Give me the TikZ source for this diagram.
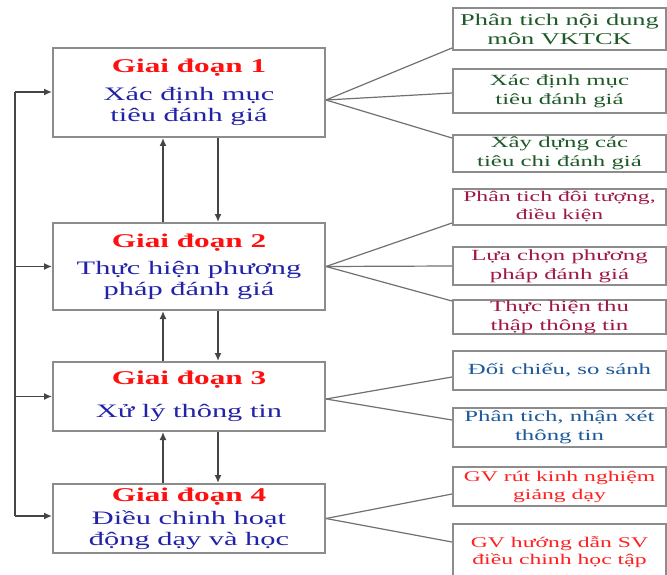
\documentclass[tikz,border=0pt]{standalone}
\usepackage{fontspec}
\setmainfont{Liberation Serif}
\usetikzlibrary{arrows.meta,calc}

\definecolor{titlered}{HTML}{FF1010}
\definecolor{stageblue}{HTML}{2222A8}
\definecolor{taskgreen}{HTML}{1E5A28}
\definecolor{taskmaroon}{HTML}{A01848}
\definecolor{tasksteel}{HTML}{1F5A98}
\definecolor{taskred}{HTML}{FF2020}
\definecolor{framegray}{HTML}{8C8C8C}
\definecolor{linkgray}{HTML}{707070}
\definecolor{arrowdark}{HTML}{454545}

% text in this chart is set wide
\newcommand\wide[1]{\scalebox{1.6}[1]{#1}}
\newcommand\stagehead[1]{{\color{titlered}\bfseries\fontsize{19.5}{21}\selectfont\wide{#1}}}

\tikzset{
  stagebox/.style={draw=framegray, line width=2pt, fill=white, minimum width=272pt,
    align=center, text=stageblue, font=\fontsize{19}{21}\selectfont, inner sep=0pt},
  taskbox/.style={draw=framegray, line width=2pt, fill=white, minimum width=213pt,
    align=center, font=\fontsize{15.5}{19}\selectfont, inner sep=0pt},
  link/.style={draw=linkgray, line width=1.2pt},
  loopline/.style={draw=arrowdark, line width=1.5pt},
  flow/.style={draw=arrowdark, line width=1.5pt, -{Latex[length=8pt,width=7pt]}}
}

\begin{document}
\begin{tikzpicture}[x=1pt, y=-1pt]
\useasboundingbox (0,0) rectangle (667,575);

% stages
\node[stagebox, minimum height=89pt] (s1) at (189,92.5)
  {\stagehead{Giai đoạn 1}\\[7pt]\wide{Xác định mục}\\\wide{tiêu đánh giá}};
\node[stagebox, minimum height=87pt] (s2) at (189,266.5)
  {\stagehead{Giai đoạn 2}\\[6pt]\wide{Thực hiện phương}\\\wide{pháp đánh giá}};
\node[stagebox, minimum height=69pt] (s3) at (189,396.5)
  {\stagehead{Giai đoạn 3}\\[12pt]\wide{Xử lý thông tin}};
\node[stagebox, minimum height=69pt] (s4) at (189,518.5)
  {\stagehead{Giai đoạn 4}\\[2pt]\wide{Điều chinh hoạt}\\\wide{động dạy và học}};

% tasks of each stage
\node[taskbox, text=taskgreen, minimum height=42pt, font=\fontsize{16.5}{19}\selectfont] (r1) at (559.5,29)
  {\wide{Phân tich nội dung}\\\wide{môn VKTCK}};
\node[taskbox, text=taskgreen, minimum height=44pt] (r2) at (559.5,91)
  {\wide{Xác định mục}\\\wide{tiêu đánh giá}};
\node[taskbox, text=taskgreen, minimum height=37pt] (r3) at (559.5,153.5)
  {\wide{Xây dựng các}\\\wide{tiêu chi đánh giá}};

\node[taskbox, text=taskmaroon, minimum height=36pt, font=\fontsize{14.8}{18}\selectfont] (r4) at (559.5,207)
  {\wide{Phân tich đôi tượng,}\\\wide{điều kiện}};
\node[taskbox, text=taskmaroon, minimum height=38pt] (r5) at (559.5,266)
  {\wide{Lựa chọn phương}\\\wide{pháp đánh giá}};
\node[taskbox, text=taskmaroon, minimum height=34pt] (r6) at (559.5,317)
  {\wide{Thực hiện thu}\\\wide{thập thông tin}};

\node[taskbox, text=tasksteel, minimum height=39pt] (r7) at (559.5,370.5)
  {\wide{Đối chiếu, so sánh}};
\node[taskbox, text=tasksteel, minimum height=39pt] (r8) at (559.5,427.5)
  {\wide{Phân tich, nhận xét}\\\wide{thông tin}};

\node[taskbox, text=taskred, minimum height=39pt, font=\fontsize{14.8}{18}\selectfont] (r9) at (559.5,486.5)
  {\wide{GV rút kinh nghiệm}\\\wide{giảng dạy}};
\node[taskbox, text=taskred, minimum height=56pt, font=\fontsize{14.8}{17}\selectfont] (r10) at (559.5,552)
  {\wide{GV hướng dẫn SV}\\\wide{điều chinh học tập}};

% fan-out links from each stage to its tasks
\coordinate (f1) at ([yshift=-7.5pt]s1.east);
\coordinate (f2) at (s2.east);
\coordinate (f3) at ([yshift=-2.5pt]s3.east);
\coordinate (f4) at (s4.east);
\draw[link] (f1) -- ([yshift=-19pt]r1.west);
\draw[link] (f1) -- ([yshift=-2pt]r2.west);
\draw[link] (f1) -- ([yshift=15.5pt]r3.west);
\draw[link] (f2) -- ([yshift=-16pt]r4.west);
\draw[link] (f2) -- (r5.west);
\draw[link] (f2) -- ([yshift=16pt]r6.west);
\draw[link] (f3) -- ([yshift=-6.5pt]r7.west);
\draw[link] (f3) -- ([yshift=7.5pt]r8.west);
\draw[link] (f4) -- ([yshift=-7.5pt]r9.west);
\draw[link] (f4) -- ([yshift=10pt]r10.west);

% arrows between consecutive stages
\coordinate (ux) at (163,0);
\coordinate (dx) at (218,0);
\draw[flow] (s2.north -| ux) -- (s1.south -| ux);
\draw[flow] (s1.south -| dx) -- (s2.north -| dx);
\draw[flow] (s3.north -| ux) -- (s2.south -| ux);
\draw[flow] (s2.south -| dx) -- (s3.north -| dx);
\draw[flow] (s4.north -| ux) -- (s3.south -| ux);
\draw[flow] (s3.south -| dx) -- (s4.north -| dx);

% feedback loop on the left
\coordinate (lt) at (15,92);
\coordinate (lb) at (15,516);
\draw[loopline] (lt) -- (lb);
\draw[flow] (lt) -- (lt -| s1.west);
\draw[flow] (s2.west -| lt) -- (s2.west);
\draw[flow] (s3.west -| lt) -- (s3.west);
\draw[flow] (lb) -- (lb -| s4.west);
\end{tikzpicture}
\end{document}
